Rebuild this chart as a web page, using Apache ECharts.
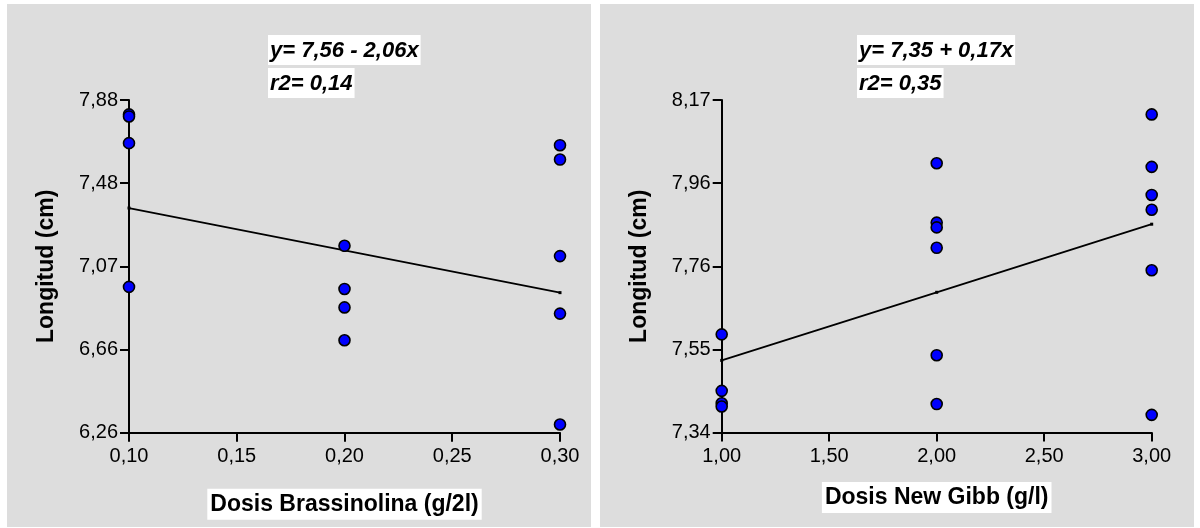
<!DOCTYPE html>
<html>
<head>
<meta charset="utf-8">
<title>Longitud vs dosis</title>
<script src="https://cdn.jsdelivr.net/npm/echarts@6/dist/echarts.min.js"></script>
<style>
  html, body { margin: 0; padding: 0; background: #ffffff; }
  #chart { width: 1200px; height: 528px; }
</style>
</head>
<body>
<div id="chart"></div>
<script>
// Brassinolina: dose (g/2l) and measured length (cm)
const brassDose   = [0.10, 0.10, 0.10, 0.10, 0.20, 0.20, 0.20, 0.20, 0.30, 0.30, 0.30, 0.30, 0.30];
const brassLength = [7.81, 7.80, 7.67, 6.97, 7.17, 6.96, 6.87, 6.71, 7.66, 7.59, 7.12, 6.84, 6.30];
const brassFit    = [7.56, -2.06];          // intercept, slope
const brassR2     = [0.14];
const brassXTicks = [0.10, 0.15, 0.20, 0.25, 0.30];
const brassYTicks = ['6,26', '6,66', '7,07', '7,48', '7,88'];
const brassYRange = [6.26, 7.88];

// New Gibb: dose (g/l) and measured length (cm)
const gibbDose   = [1, 1, 1, 1, 2, 2, 2, 2, 2, 2, 3, 3, 3, 3, 3, 3];
const gibbLength = [7.585, 7.444, 7.413, 7.405, 8.012, 7.864, 7.852, 7.801, 7.533, 7.411, 8.134, 8.003, 7.933, 7.896, 7.745, 7.384];
const gibbFit    = [7.35, 0.17];
const gibbR2     = [0.35];
const gibbXTicks = [1.00, 1.50, 2.00, 2.50, 3.00];
const gibbYTicks = ['7,34', '7,55', '7,76', '7,96', '8,17'];
const gibbYRange = [7.34, 8.17];

const FONT = '"Liberation Sans", Arial, Helvetica, sans-serif';
const comma = (v, d) => v.toFixed(d).replace('.', ',');

// evenly spaced tick positions between the axis ends
function tickValues(range, n) {
  const out = [];
  for (let i = 0; i < n; i++) out.push(range[0] + (range[1] - range[0]) * i / (n - 1));
  return out;
}

function pairs(xs, ys) { return xs.map((x, i) => [x, ys[i]]); }

function fitLine(xTicks, fit) {
  const xs = [xTicks[0], xTicks[2], xTicks[4]];
  return xs.map(x => [x, fit[0] + fit[1] * x]);
}

function equation(fit) {
  const sign = fit[1] < 0 ? ' - ' : ' + ';
  return 'y= ' + comma(fit[0], 2) + sign + comma(Math.abs(fit[1]), 2) + 'x';
}

const axisLineStyle = { color: '#000', width: 2 };

function xAxis(idx, ticks, name, gap) {
  return {
    type: 'value', gridIndex: idx,
    min: ticks[0], max: ticks[ticks.length - 1],
    interval: ticks[1] - ticks[0],
    axisLine: { show: true, onZero: false, lineStyle: axisLineStyle },
    axisTick: { show: true, length: 9, lineStyle: { color: '#000', width: 2 } },
    splitLine: { show: false },
    axisLabel: {
      margin: 14, color: '#000', fontFamily: FONT, fontSize: 20,
      formatter: v => comma(v, 2)
    },
    name: name, nameLocation: 'middle', nameGap: gap,
    nameTextStyle: {
      color: '#000', fontFamily: FONT, fontSize: 23, fontWeight: 'bold',
      backgroundColor: '#ffffff', padding: [4, 3, 3, 3], lineHeight: 24
    }
  };
}

function yAxis(idx, range, labels) {
  const vals = tickValues(range, labels.length);
  return {
    type: 'value', gridIndex: idx,
    min: range[0], max: range[1],
    axisLine: { show: true, onZero: false, lineStyle: axisLineStyle },
    axisTick: { show: true, length: 9, customValues: vals, lineStyle: { color: '#000', width: 2 } },
    splitLine: { show: false },
    axisLabel: {
      margin: 11, color: '#000', fontFamily: FONT, fontSize: 20,
      customValues: vals,
      formatter: v => {
        let best = 0;
        vals.forEach((t, i) => { if (Math.abs(t - v) < Math.abs(vals[best] - v)) best = i; });
        return labels[best];
      }
    },
    name: 'Longitud (cm)', nameLocation: 'middle', nameGap: 71,
    nameTextStyle: { color: '#000', fontFamily: FONT, fontSize: 23, fontWeight: 'bold' }
  };
}

const pointStyle = { color: '#0000ff', borderColor: '#000', borderWidth: 1.6, opacity: 1 };

function annotation(x, y, text) {
  return {
    type: 'text', x: x, y: y, z: 10, silent: true,
    style: {
      text: text, fill: '#000', backgroundColor: '#ffffff',
      font: 'italic bold 22px ' + FONT, padding: [4, 2, 2, 2], lineHeight: 24
    }
  };
}

const chart = echarts.init(document.getElementById('chart'), null, { renderer: 'canvas' });

chart.setOption({
  backgroundColor: '#ffffff',
  animation: false,
  graphic: [
    { type: 'rect', z: -10, silent: true, shape: { x: 7, y: 4, width: 584, height: 523 }, style: { fill: '#dddddd' } },
    { type: 'rect', z: -10, silent: true, shape: { x: 600, y: 4, width: 594, height: 523 }, style: { fill: '#dddddd' } },
    annotation(268, 35, equation(brassFit)),
    annotation(268, 68, 'r2= ' + comma(brassR2[0], 2)),
    annotation(857, 35, equation(gibbFit)),
    annotation(857, 68, 'r2= ' + comma(gibbR2[0], 2))
  ],
  grid: [
    { left: 129, top: 100, width: 431, height: 332.7 },
    { left: 721.7, top: 100, width: 430, height: 332.5 }
  ],
  xAxis: [
    xAxis(0, brassXTicks, 'Dosis Brassinolina (g/2l)', 56),
    xAxis(1, gibbXTicks, 'Dosis New Gibb (g/l)', 49.5)
  ],
  yAxis: [
    yAxis(0, brassYRange, brassYTicks),
    yAxis(1, gibbYRange, gibbYTicks)
  ],
  series: [
    {
      type: 'line', xAxisIndex: 0, yAxisIndex: 0, z: 3,
      data: fitLine(brassXTicks, brassFit),
      symbol: 'rect', symbolSize: 3, showSymbol: true,
      itemStyle: { color: '#000' }, lineStyle: { color: '#000', width: 1.8 }
    },
    {
      type: 'scatter', xAxisIndex: 0, yAxisIndex: 0, z: 4, clip: false,
      data: pairs(brassDose, brassLength),
      symbol: 'circle', symbolSize: 11, itemStyle: pointStyle
    },
    {
      type: 'line', xAxisIndex: 1, yAxisIndex: 1, z: 3,
      data: fitLine(gibbXTicks, gibbFit),
      symbol: 'rect', symbolSize: 3, showSymbol: true,
      itemStyle: { color: '#000' }, lineStyle: { color: '#000', width: 1.8 }
    },
    {
      type: 'scatter', xAxisIndex: 1, yAxisIndex: 1, z: 4, clip: false,
      data: pairs(gibbDose, gibbLength),
      symbol: 'circle', symbolSize: 11, itemStyle: pointStyle
    }
  ]
});
</script>
</body>
</html>
